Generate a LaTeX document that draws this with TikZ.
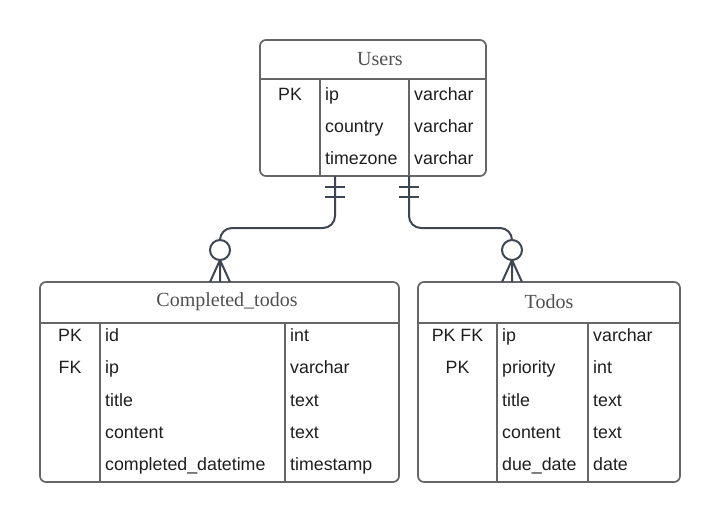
\documentclass[tikz,border=0pt]{standalone}
\usepackage{fontspec}
\setmainfont{Liberation Sans}
\newfontfamily\titlefont{Liberation Serif}
\definecolor{boxgray}{HTML}{666666}
\definecolor{linegray}{HTML}{3D4652}
\definecolor{titlegray}{HTML}{505050}
\definecolor{txt}{HTML}{1E1E1E}
\tikzset{
  tbl/.style={draw=boxgray, line width=1.7pt, rounded corners=6pt},
  sep/.style={draw=boxgray, line width=1.7pt},
  ttl/.style={font=\titlefont\fontsize{20}{22}\selectfont, text=titlegray, inner sep=0pt},
  fld/.style={font=\fontsize{17.8}{20}\selectfont, text=txt, anchor=west, inner sep=0pt, text height=12.5pt, text depth=4pt},
  key/.style={fld, anchor=center},
  rel/.style={draw=linegray, line width=2pt}
}
\begin{document}
\begin{tikzpicture}[x=1pt,y=-1pt]
\useasboundingbox (0,0) rectangle (720,522);
% Users
\draw[tbl] (260,40) rectangle (486,176);
\draw[sep] (260,79) -- (486,79) (320,79) -- (320,176) (409,79) -- (409,176);
\node[ttl] (users) at (380,59) {Users};
\foreach \k/\n/\t [count=\i] in {PK/ip/varchar, /country/varchar, /timezone/varchar}{
  \node[key] (u-k\i) at (290,64+32*\i) {\k};
  \node[fld] (u-n\i) at (325,64+32*\i) {\n};
  \node[fld] (u-t\i) at (414,64+32*\i) {\t};
}
% Completed_todos
\draw[tbl] (40,282) rectangle (399,482);
\draw[sep] (40,323) -- (399,323) (100,323) -- (100,482) (285,323) -- (285,482);
\node[ttl] (done) at (227,302) {Completed\_todos};
\foreach \k/\n/\t [count=\i] in {PK/id/int, FK/ip/varchar, /title/text, /content/text, /completed\_datetime/timestamp}{
  \node[key] (c-k\i) at (70,305+32.3*\i) {\k};
  \node[fld] (c-n\i) at (105,305+32.3*\i) {\n};
  \node[fld] (c-t\i) at (290,305+32.3*\i) {\t};
}
% Todos
\draw[tbl] (418,282) rectangle (680,482);
\draw[sep] (418,323) -- (680,323) (497,323) -- (497,482) (588,323) -- (588,482);
\node[ttl] (todos) at (549,302) {Todos};
\foreach \k/\n/\t [count=\i] in {PK FK/ip/varchar, PK/priority/int, /title/text, /content/text, /due\_date/date}{
  \node[key] (t-k\i) at (457.5,305+32.3*\i) {\k};
  \node[fld] (t-n\i) at (502,305+32.3*\i) {\n};
  \node[fld] (t-t\i) at (593,305+32.3*\i) {\t};
}
% relations
\coordinate (u-a) at (335,176);
\coordinate (u-b) at (409,176);
\coordinate (c-a) at (220,240);
\coordinate (t-a) at (512,240);
\draw[rel, rounded corners=12pt] (u-a) |- ([yshift=12pt]c-a) -- (c-a);
\draw[rel, rounded corners=12pt] (u-b) |- ([yshift=12pt]t-a) -- (t-a);
\draw[rel] (325,187) -- (345,187) (325,197) -- (345,197);
\draw[rel] (399,187) -- (419,187) (399,197) -- (419,197);
\draw[rel] (220,250) circle (10pt);
\draw[rel] (220,260) -- (210,282) (220,260) -- (220,282) (220,260) -- (230,282);
\draw[rel] (512,250) circle (10pt);
\draw[rel] (512,260) -- (502,282) (512,260) -- (512,282) (512,260) -- (522,282);
\end{tikzpicture}
\end{document}
